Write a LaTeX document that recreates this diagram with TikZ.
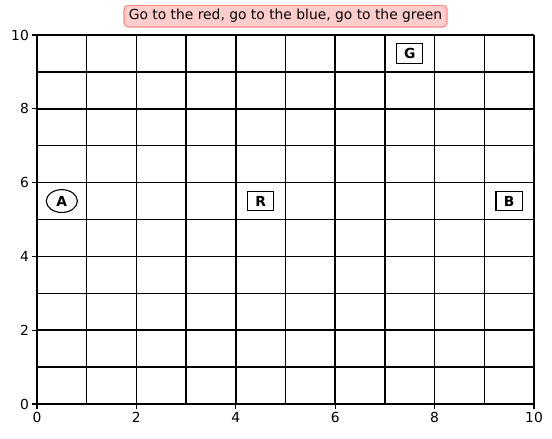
\documentclass[tikz,border=0pt]{standalone}
\usepackage{fontspec}
\setmainfont{DejaVu Sans}
\usetikzlibrary{shapes.geometric}

\tikzset{
  gridline/.style={line width=1.1pt},
  ticklabel/.style={font=\fontsize{10}{12}\selectfont, inner sep=2pt},
  cellbox/.style={draw, line width=0.8pt, fill=white, rectangle,
    font=\fontsize{10}{12}\selectfont\bfseries,
    minimum width=19pt, minimum height=14pt, inner sep=0pt},
  cellround/.style={draw, line width=0.8pt, fill=white, ellipse,
    font=\fontsize{10}{12}\selectfont\bfseries,
    minimum width=22.5pt, minimum height=16.5pt, inner sep=0pt},
}

\begin{document}
\begin{tikzpicture}[x=1.262cm, y=0.937cm]

  \useasboundingbox (-0.744,-0.921) rectangle (10.362,10.948);

  % Grid of cells
  \foreach \i in {0,...,10} {
    \draw[gridline] (\i,0) -- (\i,10);
    \draw[gridline] (0,\i) -- (10,\i);
  }

  % Ticks and tick labels
  \foreach \i in {0,2,...,10} {
    \draw[line width=0.8pt] (\i,0) -- ++(0,-3.5pt) node[below, ticklabel] {\i};
    \draw[line width=0.8pt] (0,\i) -- ++(-3.5pt,0) node[left, ticklabel] {\i};
  }

  % Cells A, R, B, G
  \node[cellround] (a) at (0.5,5.5) {A};
  \node[cellbox] (r) at (4.5,5.5) {R};
  \node[cellbox] (b) at (9.5,5.5) {B};
  \node[cellbox] (g) at (7.5,9.5) {G};

  % Title
  \node[draw=red!45, fill=red!20, rounded corners=3pt, line width=0.8pt,
    font=\fontsize{10}{12}\selectfont, inner xsep=3.5pt, inner ysep=3pt]
    (title) at (5,10.51) {Go to the red, go to the blue, go to the green};

\end{tikzpicture}
\end{document}
